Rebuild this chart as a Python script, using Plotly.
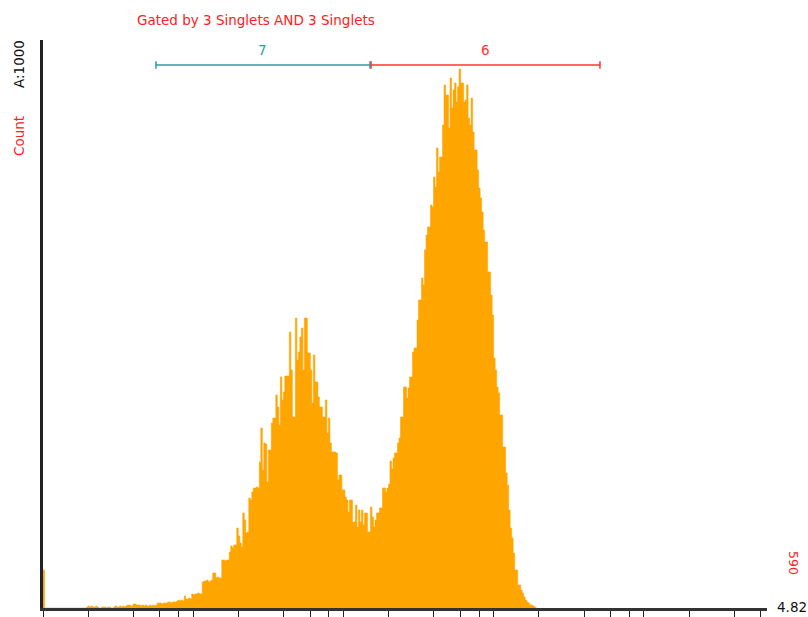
import math
import plotly.graph_objects as go

# ---------------- data ----------------
bin_width = 0.01          # histogram bin width in decades (log10 units)
x_max = 4.82              # axis upper limit in decades
y_max = 568               # count axis upper limit
count_label = "590"
title_text = "Gated by 3 Singlets AND 3 Singlets"
y_label_count = "Count"
y_label_scale = "A:1000"

tick_values = [1, 2, 4, 6, 8,
               10, 20, 40, 60, 80,
               100, 200, 400, 600, 800,
               1000, 2000, 4000, 6000, 8000,
               10000, 20000, 40000, 60000]

counts = [
    38, 0, 0, 0, 0, 0, 0, 0, 0, 0, 0, 0, 0, 0, 0, 0, 0, 0, 0, 0,
    0, 0, 0, 0, 0, 0, 0, 0, 0, 1, 2, 1, 2, 1, 1, 2, 1, 0, 0, 1,
    1, 1, 0, 1, 1, 0, 0, 1, 2, 1, 1, 2, 1, 2, 1, 2, 3, 3, 2, 2,
    4, 4, 3, 3, 3, 2, 3, 2, 3, 2, 2, 3, 2, 3, 2, 3, 5, 5, 5, 4,
    5, 5, 5, 6, 6, 5, 6, 6, 6, 7, 8, 7, 8, 7, 12, 9, 9, 10, 9, 14,
    13, 14, 14, 15, 14, 14, 26, 27, 27, 28, 26, 27, 28, 35, 35, 30, 31, 30, 30, 48,
    48, 47, 48, 48, 56, 62, 60, 63, 63, 80, 72, 65, 61, 95, 88, 75, 76, 110, 108, 116,
    120, 120, 121, 120, 146, 180, 138, 165, 164, 126, 158, 158, 185, 190, 190, 213, 201, 183, 231, 208,
    216, 232, 232, 232, 276, 238, 191, 191, 290, 248, 256, 271, 280, 238, 290, 290, 255, 255, 238, 205,
    253, 226, 226, 211, 201, 201, 191, 191, 208, 175, 190, 165, 156, 156, 156, 155, 128, 133, 133, 118,
    118, 111, 108, 96, 108, 108, 86, 86, 103, 81, 98, 86, 98, 83, 95, 95, 76, 76, 101, 91,
    81, 88, 95, 95, 100, 100, 120, 120, 116, 120, 124, 147, 139, 150, 155, 155, 165, 170, 191, 191,
    221, 221, 210, 220, 231, 231, 256, 260, 260, 288, 308, 308, 330, 323, 358, 373, 381, 381, 403, 401,
    431, 421, 460, 436, 451, 451, 483, 523, 513, 513, 480, 530, 500, 518, 525, 506, 521, 539, 525, 525,
    506, 508, 523, 490, 483, 510, 476, 458, 458, 438, 420, 410, 396, 378, 366, 366, 336, 336, 313, 293,
    250, 238, 221, 215, 193, 193, 161, 161, 135, 123, 98, 80, 70, 55, 38, 38, 23, 23, 18, 15,
    11, 8, 6, 5, 3, 3, 2, 1, 0,
]

gate_names = ["7", "6"]
gate_lo = [0.752, 2.184]
gate_hi = [2.177, 3.708]
gate_colors = ["#2f9c9c", "#ff3333"]

# ---------------- figure ----------------
edges = [i * bin_width for i in range(len(counts) + 1)]
ys = counts + [counts[-1]]

fig = go.Figure()
fig.add_trace(go.Scatter(
    x=edges, y=ys, mode="lines", line=dict(shape="hv", width=0.6, color="#ffa500"),
    fill="tozeroy", fillcolor="#ffa500", hoverinfo="skip", showlegend=False,
))

FONT = "DejaVu Sans, Verdana, sans-serif"

W, H = 808, 617
L, R, T, B = 43, 41, 40, 9
pw, ph = W - L - R, H - T - B


def px(xp):
    return (xp - L) / pw


def py(yp):
    return (H - B - yp) / ph


shapes = []
annotations = []
for name, lo, hi, col in zip(gate_names, gate_lo, gate_hi, gate_colors):
    ybar = py(65)
    shapes.append(dict(type="line", xref="x", yref="paper", x0=lo, x1=hi, y0=ybar, y1=ybar,
                       line=dict(color=col, width=1.5)))
    for xe in (lo, hi):
        shapes.append(dict(type="line", xref="x", yref="paper", x0=xe, x1=xe,
                           y0=ybar - 0.0065, y1=ybar + 0.0065, line=dict(color=col, width=1.5)))
    annotations.append(dict(x=(lo + hi) / 2, y=py(50), xref="x", yref="paper", text=name,
                            showarrow=False, font=dict(family=FONT, size=13.5, color=col),
                            xanchor="center", yanchor="middle"))

annotations += [
    dict(x=px(256), y=py(20), xref="paper", yref="paper", text=title_text, showarrow=False,
         font=dict(family=FONT, size=13.5, color="#ff2020"), xanchor="center", yanchor="middle"),
    dict(x=px(19), y=py(64), xref="paper", yref="paper", text=y_label_scale, showarrow=False,
         textangle=-90, font=dict(family=FONT, size=13.5, color="#111111"),
         xanchor="center", yanchor="middle"),
    dict(x=px(19), y=py(136), xref="paper", yref="paper", text=y_label_count, showarrow=False,
         textangle=-90, font=dict(family=FONT, size=13.5, color="#ff2020"),
         xanchor="center", yanchor="middle"),
    dict(x=px(794), y=py(563), xref="paper", yref="paper", text=count_label, showarrow=False,
         textangle=90, font=dict(family=FONT, size=12.5, color="#ff2020"),
         xanchor="center", yanchor="middle"),
    dict(x=px(792), y=py(607), xref="paper", yref="paper", text=f"{x_max:.2f}", showarrow=False,
         font=dict(family=FONT, size=13.5, color="#111111"), xanchor="center", yanchor="middle"),
]

fig.update_layout(
    width=W, height=H,
    margin=dict(l=L, r=R, t=T, b=B, pad=0, autoexpand=False),
    paper_bgcolor="white", plot_bgcolor="white",
    showlegend=False,
    shapes=shapes, annotations=annotations,
    xaxis=dict(range=[0, x_max], showgrid=False, zeroline=False, showline=True, automargin=False,
               linecolor="#333333", linewidth=2.5, ticks="outside", ticklen=7, tickwidth=1.3,
               tickcolor="#222222", tickvals=[math.log10(v) for v in tick_values],
               showticklabels=False, fixedrange=True),
    yaxis=dict(range=[0, y_max], showgrid=False, zeroline=False, showline=True, automargin=False,
               linecolor="#222222", linewidth=3, ticks="", showticklabels=False, fixedrange=True),
)

fig.write_html("out.html")
